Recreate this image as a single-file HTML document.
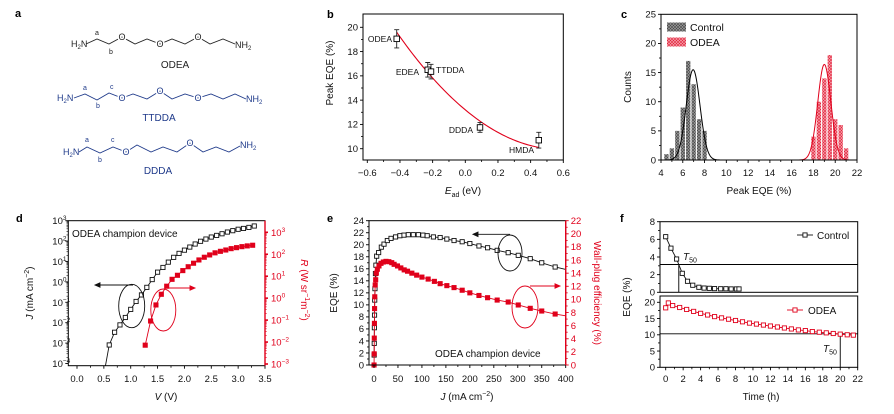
<!DOCTYPE html>
<html><head><meta charset="utf-8">
<style>
html,body{margin:0;padding:0;background:#fff;}
svg{display:block;font-family:"Liberation Sans",Arial,sans-serif;}
.t{font-size:9.5px;fill:#111;}
.ti{font-size:10px;fill:#111;}
.r{fill:#e0001b;}
</style></head>
<body>
<svg id="fig" width="894" height="414" viewBox="0 0 894 414" xmlns="http://www.w3.org/2000/svg">
<defs>
 <pattern id="hatchK" patternUnits="userSpaceOnUse" width="3" height="3"><rect width="3" height="3" fill="#9a9a9a"/><path d="M0,3L3,0M0,0L3,3" stroke="#444" stroke-width="0.6"/></pattern>
 <pattern id="hatchR" patternUnits="userSpaceOnUse" width="3" height="3"><rect width="3" height="3" fill="#f7a0aa"/><path d="M0,3L3,0M0,0L3,3" stroke="#e0203a" stroke-width="0.6"/></pattern>
</defs>
<g font-weight="bold" font-size="11" fill="#000">
<text x="15" y="17">a</text>
<text x="327" y="18">b</text>
<text x="621" y="18">c</text>
<text x="16" y="222">d</text>
<text x="327" y="222">e</text>
<text x="620" y="222">f</text>
</g>
<g font-size="9" fill="#1f3a8a">
 <g>
  <polyline fill="none" stroke="#222" stroke-width="0.9" points="86,44 97,39 109,44 122,37 135,44 147,39 160,44 172,39 185,44 198,37 210,44 223,39 235,44"/>
  <text x="71" y="47" fill="#222">H<tspan font-size="6" dy="2">2</tspan><tspan dy="-2">N</tspan></text>
  <text x="235" y="48" fill="#222">NH<tspan font-size="6" dy="2">2</tspan></text>
  <g fill="#222" stroke="#fff" stroke-width="3" paint-order="stroke" text-anchor="middle"><text x="122" y="40">O</text><text x="160" y="47">O</text><text x="198" y="40">O</text></g>
  <text x="95" y="35" font-size="7" fill="#222">a</text><text x="109" y="54" font-size="7" fill="#222">b</text>
  <text x="175" y="68" font-size="10" text-anchor="middle" fill="#222">ODEA</text>
 </g>
 <g>
  <polyline fill="none" stroke="#1f3a8a" stroke-width="0.9" points="74,98 85,94 97,100 109,93 122,98 133,94 147,99 160,91 172,99 185,94 198,98 211,94 223,99 235,94 246,99"/>
  <text x="57" y="101">H<tspan font-size="6" dy="2">2</tspan><tspan dy="-2">N</tspan></text>
  <text x="246" y="102">NH<tspan font-size="6" dy="2">2</tspan></text>
  <g stroke="#fff" stroke-width="3" paint-order="stroke" text-anchor="middle"><text x="122" y="101">O</text><text x="160" y="94">O</text><text x="198" y="101">O</text></g>
  <text x="83" y="90" font-size="7">a</text><text x="96" y="108" font-size="7">b</text><text x="110" y="89" font-size="7">c</text>
  <text x="159" y="121" font-size="10" text-anchor="middle">TTDDA</text>
 </g>
 <g>
  <polyline fill="none" stroke="#1f3a8a" stroke-width="0.9" points="79,152 87,147 100,153 113,147 126,152 137,145 151,152 163,147 177,152 190,143 203,152 216,147 229,152 240,146"/>
  <text x="63" y="155">H<tspan font-size="6" dy="2">2</tspan><tspan dy="-2">N</tspan></text>
  <text x="240" y="148">NH<tspan font-size="6" dy="2">2</tspan></text>
  <g stroke="#fff" stroke-width="3" paint-order="stroke" text-anchor="middle"><text x="126" y="155">O</text><text x="190" y="146">O</text></g>
  <text x="85" y="142" font-size="7">a</text><text x="98" y="162" font-size="7">b</text><text x="111" y="142" font-size="7">c</text>
  <text x="158" y="174" font-size="10" text-anchor="middle">DDDA</text>
 </g>
</g>
<text class="ti" transform="translate(333,73) rotate(-90)" text-anchor="middle">Peak EQE (%)</text>
<text class="ti" x="463" y="194" text-anchor="middle"><tspan font-style="italic">E</tspan><tspan font-size="7" dy="3">ad</tspan><tspan dy="-3"> (eV)</tspan></text>
<text class="ti" transform="translate(631,87) rotate(-90)" text-anchor="middle">Counts</text>
<text class="ti" x="759" y="194" text-anchor="middle">Peak EQE (%)</text>
<text class="ti" transform="translate(33,293) rotate(-90)" text-anchor="middle"><tspan font-style="italic">J</tspan> (mA cm<tspan font-size="7" dy="-4">−2</tspan><tspan dy="4">)</tspan></text>
<text class="ti r" transform="translate(301,290) rotate(90)" text-anchor="middle"><tspan font-style="italic">R</tspan> (W sr<tspan font-size="7" dy="-4">−1</tspan><tspan dy="4">m</tspan><tspan font-size="7" dy="-4">−2</tspan><tspan dy="4">)</tspan></text>
<text class="ti" x="166" y="400" text-anchor="middle"><tspan font-style="italic">V</tspan> (V)</text>
<text class="ti" transform="translate(337,293) rotate(-90)" text-anchor="middle">EQE (%)</text>
<text class="ti r" transform="translate(594,293) rotate(90)" text-anchor="middle">Wall-plug efficiency (%)</text>
<text class="ti" x="467" y="400" text-anchor="middle"><tspan font-style="italic">J</tspan> (mA cm<tspan font-size="7" dy="-4">−2</tspan><tspan dy="4">)</tspan></text>
<text class="ti" transform="translate(630,297) rotate(-90)" text-anchor="middle">EQE (%)</text>
<text class="ti" x="761" y="400" text-anchor="middle">Time (h)</text>
<g id="plots"></g>
</svg>
<script>
const bNames=['ODEA','EDEA','TTDDA','DDDA','HMDA'];
const bEad=[-0.42,-0.23,-0.21,0.09,0.45];
const bEqe=[19.05,16.5,16.35,11.75,10.7];
const bErr=[0.75,0.6,0.6,0.4,0.65];
const bFit=[13.2,-11.2,9.6];
const bXTicks=[-0.6,-0.4,-0.2,0.0,0.2,0.4,0.6];
const bYTicks=[10,12,14,16,18,20];
const cCtrlBins=[4.5,5,5.5,6,6.5,7,7.5,8];
const cCtrlCounts=[1,2,5,9,17,13,7,5];
const cOdeaBins=[18,18.5,19,19.5,20,20.5,21];
const cOdeaCounts=[4,10,14,18,7,6,2];
const cCtrlGauss=[6.95,15.5,0.63];
const cOdeaGauss=[19.0,16.4,0.6];
const cXTicks=[4,6,8,10,12,14,16,18,20,22];
const cYTicks=[0,5,10,15,20,25];
const dV=[0.6,0.7,0.8,0.9,1.0,1.1,1.2,1.3,1.4,1.5,1.6,1.7,1.8,1.9,2.0,2.1,2.2,2.3,2.4,2.5,2.6,2.7,2.8,2.9,3.0,3.1,3.2,3.3];
const dJ=[8.1e-4,3.4e-3,7.8e-3,0.018,0.045,0.11,0.23,0.54,1.3,3.0,5.1,9.3,16,25,36,51,72,98,126,158,190,229,278,324,380,417,468,550];
const dVR=[1.27,1.37,1.47,1.57,1.67,1.77,1.87,1.97,2.07,2.17,2.27,2.37,2.47,2.57,2.67,2.77,2.87,2.97,3.07,3.17,3.27];
const dR=[7.2e-3,0.091,0.49,1.5,3.5,7.2,11,18,27,39,55,73,93,116,136,156,180,200,222,240,257];
const dXTicks=[0.0,0.5,1.0,1.5,2.0,2.5,3.0,3.5];
const dYExp=[-4,-3,-2,-1,0,1,2,3];
const dRExp=[-3,-2,-1,0,1,2,3];
const eJ=[0.3,0.5,0.8,1.1,1.5,2,3,4,5.6,9.7,15.3,20.9,27.8,35.5,45,54,62.6,71.6,82,92.5,102,111,124,138,152,167,184,200,219,237,257,280,301,326,350,378];
const eEqe=[1.66,3.6,6.2,8.3,10.8,12.7,15.2,16.6,18.1,18.7,19.6,20.1,20.7,21.06,21.3,21.5,21.6,21.67,21.67,21.67,21.6,21.5,21.3,21.2,20.95,20.7,20.5,20.2,19.8,19.5,19.07,18.68,18.24,17.68,17.0,16.3];
const eJw=[0.1,0.4,0.6,0.9,1.2,1.6,2.5,3.5,4.9,7,10.4,14.6,19.5,25,31,37,42,49,56,63,70,79,89,100,113,126,138,152,167,184,200,219,237,257,280,301,326,350,378];
const eWpe=[0,1.7,4.1,6.35,8.6,10.4,12.2,13.0,14.0,14.6,15.1,15.5,15.7,15.8,15.75,15.6,15.35,15.1,14.8,14.5,14.3,14.0,13.7,13.4,13.1,12.75,12.4,12.1,11.8,11.4,11.0,10.6,10.26,9.9,9.6,9.15,8.64,8.23,7.77];
const eXTicks=[0,50,100,150,200,250,300,350,400];
const eYTicks=[0,2,4,6,8,10,12,14,16,18,20,22,24];
const eRTicks=[0,2,4,6,8,10,12,14,16,18,20,22];
const fTc=[0,0.6,1.25,1.9,2.5,3.1,3.8,4.4,5.0,5.6,6.3,6.9,7.5,8.1,8.4];
const fCtrl=[6.3,5.0,3.77,2.15,1.25,0.8,0.57,0.48,0.45,0.42,0.4,0.4,0.38,0.38,0.38];
const fTo=[0,0.3,0.8,1.6,2.4,3.2,4.0,4.8,5.6,6.4,7.2,8.0,8.8,9.6,10.4,11.2,12.0,12.8,13.6,14.4,15.2,16.0,16.8,17.6,18.4,19.2,20.0,20.8,21.5];
const fOdea=[18.3,19.8,19.0,18.4,17.8,17.2,16.6,16.1,15.6,15.2,14.8,14.4,14.0,13.6,13.3,13.0,12.7,12.4,12.1,11.8,11.5,11.3,11.0,10.8,10.6,10.4,10.2,10.0,9.9];
const fCtrlT50=[1.5,3.15];
const fOdeaT50=[20.0,10.3];
const fXTicks=[0,2,4,6,8,10,12,14,16,18,20,22];
const fTopTicks=[0,2,4,6,8];
const fBotTicks=[0,5,10,15,20];

const NS='http://www.w3.org/2000/svg';
const root=document.getElementById('plots');
function mk(tag,attrs,parent){const e=document.createElementNS(NS,tag);for(const k in attrs)e.setAttribute(k,attrs[k]);(parent||root).appendChild(e);return e;}
function lin(d0,d1,r0,r1){return v=>r0+(v-d0)*(r1-r0)/(d1-d0);}
function logs(e0,p0,pxPerDec){return v=>p0-(Math.log10(v)-e0)*pxPerDec;}
function box(x0,y0,x1,y1,nm){const r=mk('rect',{x:x0,y:y0,width:x1-x0,height:y1-y0,fill:'none',stroke:'#000','stroke-width':1});


return r;}
function xTicks(vals,sx,y,labelY,nm,fmt){const g=mk('g',{});


vals.forEach(v=>{const x=sx(v);mk('line',{x1:x,x2:x,y1:y,y2:y+3,stroke:'#000','stroke-width':0.9},g);
const t=mk('text',{x:x,y:labelY,'text-anchor':'middle',class:'t'},g);t.textContent=fmt?fmt(v):String(v);

});
for(let i=0;i<vals.length-1;i++){const x=sx((vals[i]+vals[i+1])/2);mk('line',{x1:x,x2:x,y1:y,y2:y+2,stroke:'#000','stroke-width':0.8},g);}return g;}
function yTicks(vals,sy,x,dir,nm,fmt,cls){const g=mk('g',{});


const col=cls?'#e0001b':'#000';
vals.forEach(v=>{const y=sy(v);mk('line',{x1:x,x2:x+3*dir,y1:y,y2:y,stroke:col,'stroke-width':0.9},g);
const t=mk('text',{x:x+5*dir,y:y+3.3,'text-anchor':dir<0?'end':'start',class:'t'+(cls?' r':'')},g);t.textContent=fmt?fmt(v):String(v);

});
for(let i=0;i<vals.length-1;i++){const y=sy((vals[i]+vals[i+1])/2);mk('line',{x1:x,x2:x+2*dir,y1:y,y2:y,stroke:col,'stroke-width':0.8},g);}return g;}
function logYTicks(exps,sy,x,dir,nm,red){const g=mk('g',{});


const col=red?'#e0001b':'#000';
exps.forEach(e=>{const y=sy(Math.pow(10,e));mk('line',{x1:x,x2:x+3*dir,y1:y,y2:y,stroke:col,'stroke-width':red?1.6:0.9},g);
for(let m=2;m<10;m++){const ym=sy(m*Math.pow(10,e));if(e<exps[exps.length-1])mk('line',{x1:x,x2:x+1.8*dir,y1:ym,y2:ym,stroke:col,'stroke-width':0.6},g);}
const t=mk('text',{x:x+(dir<0?-16:6),y:y+3.5,'text-anchor':'start',class:'t'+(red?' r':'')},g);


t.innerHTML='10<tspan font-size="6.5" dy="-4">'+(e<0?'−'+(-e):e)+'</tspan>';});return g;}
function fmt1(v){return v.toFixed(1).replace('-','−');}
function sq(x,y,s,fill,stroke,parent,nm){const r=mk('rect',{x:x-s/2,y:y-s/2,width:s,height:s,fill:fill,stroke:stroke,'stroke-width':0.9},parent);

return r;}
function pl(pts,col,w,parent,nm){const p=mk('polyline',{points:pts.map(p=>p.join(',')).join(' '),fill:'none',stroke:col,'stroke-width':w||1},parent);

return p;}
function txt(x,y,s,attrs,nm){const t=mk('text',Object.assign({x:x,y:y},attrs||{}));t.textContent=s;

return t;}

(function(){const sx=lin(-0.6,0.6,367.3,563.3),sy=lin(10,20,148.7,27.3);
const g=mk('g',{});


box(363,14,563.3,160,'b-plot-frame');
xTicks(bXTicks,sx,160,176,'b-x-axis',fmt1);
yTicks(bYTicks,sy,363,-1,'b-y-axis');
const pts=[];for(let x=-0.42;x<=0.4501;x+=0.01){pts.push([sx(x),sy(bFit[0]+bFit[1]*x+bFit[2]*x*x)]);}
pl(pts,'#e0001b',1.1,g,'fit-curve');
bEad.forEach((x,i)=>{const X=sx(x),Y=sy(bEqe[i]),y1=sy(bEqe[i]+bErr[i]),y2=sy(bEqe[i]-bErr[i]);
const eb=mk('path',{d:`M${X},${y1}V${y2}M${X-2.5},${y1}H${X+2.5}M${X-2.5},${y2}H${X+2.5}`,stroke:'#222','stroke-width':0.9,fill:'none'},g);


sq(X,Y,5.5,'#fff','#000',g,'data-point-'+bNames[i].toLowerCase());});
const lab=[[392,'end',42],[419,'end',75],[436,'start',73],[473,'end',133],[534,'end',153]];
bNames.forEach((n,i)=>{txt(lab[i][0],lab[i][2],n,{'font-size':'8.5',fill:'#111','text-anchor':lab[i][1]},'label-'+n.toLowerCase());});
})();

(function(){const sx=lin(4,22,661,857),sy=lin(0,25,160,14.3);
const g=mk('g',{});


const bw=0.4;
cCtrlBins.forEach((b,i)=>{const r=mk('rect',{x:sx(b-bw/2),y:sy(cCtrlCounts[i]),width:sx(b+bw/2)-sx(b-bw/2),height:sy(0)-sy(cCtrlCounts[i]),fill:'url(#hatchK)'},g);

});
cOdeaBins.forEach((b,i)=>{const r=mk('rect',{x:sx(b-bw/2),y:sy(cOdeaCounts[i]),width:sx(b+bw/2)-sx(b-bw/2),height:sy(0)-sy(cOdeaCounts[i]),fill:'url(#hatchR)'},g);

});
function gauss(p,a,b){const pts=[];for(let x=a;x<=b;x+=0.05)pts.push([sx(x),sy(p[1]*Math.exp(-Math.pow(x-p[0],2)/(2*p[2]*p[2])))]);return pts;}
pl(gauss(cCtrlGauss,4.2,10.5),'#000',1,g,'control-gaussian-fit');
pl(gauss(cOdeaGauss,15.5,22),'#e0001b',1,g,'odea-gaussian-fit');
box(661,14.3,857,160,'c-plot-frame');
xTicks(cXTicks,sx,160,176,'c-x-axis');
yTicks(cYTicks,sy,661,-1,'c-y-axis');
const l1=mk('rect',{x:667,y:22.5,width:19,height:9,fill:'url(#hatchK)'});


txt(690,31,'Control',{'font-size':'10.5',fill:'#111'},'legend-label-control');
const l2=mk('rect',{x:667,y:37.5,width:19,height:9,fill:'url(#hatchR)'});


txt(690,46,'ODEA',{'font-size':'10.5',fill:'#111'},'legend-label-odea');
})();

(function(){const sx=lin(0,3.5,77,265),sy=logs(3,220.7,20.4),sr=logs(3,232.3,21.95);
const g=mk('g',{});


box(68.3,220.7,265,365.7,'d-plot-frame');
xTicks(dXTicks,sx,365.7,382,'d-x-axis',v=>v.toFixed(1));
logYTicks(dYExp,sy,68.3,-1,'d-left-y-axis',false);
const rl=mk('line',{x1:265,x2:265,y1:220.7,y2:365.7,stroke:'#e0001b','stroke-width':1.4});


logYTicks(dRExp,sr,265,1,'d-right-y-axis',true);
const jl=[[sx(0.53),365.7]].concat(dV.map((v,i)=>[sx(v),sy(dJ[i])]));
pl(jl,'#111',0.9,g,'current-density-line');
dV.forEach((v,i)=>sq(sx(v),sy(dJ[i]),4.2,'#fff','#111',g,'current-density-point'));
pl(dVR.map((v,i)=>[sx(v),sr(dR[i])]),'#e0001b',0.9,g,'radiance-line');
dVR.forEach((v,i)=>sq(sx(v),sr(dR[i]),4.2,'#e0001b','#e0001b',g,'radiance-point'));
txt(72,237,'ODEA champion device',{'font-size':'10',fill:'#111'},'d-annotation');
const e1=mk('ellipse',{cx:131.7,cy:306,rx:13,ry:21.7,fill:'none',stroke:'#111','stroke-width':0.9},g);


const a1=mk('path',{d:'M133,285H95M95,285l5,-2.2v4.4z',stroke:'#111','stroke-width':0.9,fill:'#111'},g);


const e2=mk('ellipse',{cx:163.3,cy:310,rx:12.5,ry:21,fill:'none',stroke:'#e0001b','stroke-width':0.9},g);


const a2=mk('path',{d:'M166,288H192M195,288l-5,-2.2v4.4z',stroke:'#e0001b','stroke-width':0.9,fill:'#e0001b'},g);


})();

(function(){const sx=lin(0,400,374,565.7),sy=lin(0,24,365,220.7),sr=lin(0,22,365,220.7);
const g=mk('g',{});


box(369,220.7,565.7,365,'e-plot-frame');
xTicks(eXTicks,sx,365,382,'e-x-axis');
yTicks(eYTicks,sy,369,-1,'e-left-y-axis');
const rl=mk('line',{x1:565.7,x2:565.7,y1:220.7,y2:365,stroke:'#e0001b','stroke-width':1.4});


yTicks(eRTicks,sr,565.7,1,'e-right-y-axis',null,true);
const kp=eJ.map((j,i)=>[sx(j),sy(eEqe[i])]);kp.push([sx(400),sy(15.9)]);
pl(kp,'#111',0.9,g,'eqe-line');
eJ.forEach((j,i)=>sq(sx(j),sy(eEqe[i]),4.2,'#fff','#111',g,'eqe-point'));
const rp=eJw.map((j,i)=>[sx(j),sr(eWpe[i])]);rp.push([sx(400),sr(7.5)]);
pl(rp,'#e0001b',0.9,g,'wall-plug-line');
eJw.forEach((j,i)=>sq(sx(j),sr(eWpe[i]),4.2,'#e0001b','#e0001b',g,'wall-plug-point'));
txt(435,357,'ODEA champion device',{'font-size':'10',fill:'#111'},'e-annotation');
const e1=mk('ellipse',{cx:510,cy:253,rx:12,ry:18,fill:'none',stroke:'#111','stroke-width':0.9},g);


const a1=mk('path',{d:'M510,234.3H476M473,234.3l5,-2.2v4.4z',stroke:'#111','stroke-width':0.9,fill:'#111'},g);


const e2=mk('ellipse',{cx:525,cy:307,rx:13,ry:21,fill:'none',stroke:'#e0001b','stroke-width':0.9},g);


const a2=mk('path',{d:'M530,286H557M560,286l-5,-2.2v4.4z',stroke:'#e0001b','stroke-width':0.9,fill:'#e0001b'},g);


})();

(function(){const sx=lin(0,22,665.7,857.7),st=lin(0,8,292.3,221.7),sb=lin(0,20,367.3,302.3);
const g=mk('g',{});


box(660,221.7,857.7,292.3,'f-top-frame');
box(660,296,857.7,367.3,'f-bottom-frame');
xTicks(fXTicks,sx,367.3,382,'f-x-axis');
yTicks(fTopTicks,st,660,-1,'f-top-y-axis');
yTicks(fBotTicks,sb,660,-1,'f-bottom-y-axis');
const h1=mk('path',{d:`M660,${st(fCtrlT50[1])}H857.7M${sx(fCtrlT50[0])},${st(fCtrlT50[1])}V292.3`,stroke:'#000','stroke-width':0.9,fill:'none'},g);


const h2=mk('path',{d:`M660,${sb(fOdeaT50[1])}H857.7M${sx(fOdeaT50[0])},${sb(fOdeaT50[1])}V367.3`,stroke:'#000','stroke-width':0.9,fill:'none'},g);


pl(fTc.map((t,i)=>[sx(t),st(fCtrl[i])]),'#111',0.9,g,'control-line');
fTc.forEach((t,i)=>sq(sx(t),st(fCtrl[i]),4.2,'#fff','#111',g,'control-point'));
pl(fTo.map((t,i)=>[sx(t),sb(fOdea[i])]),'#e0001b',0.9,g,'odea-line');
fTo.forEach((t,i)=>sq(sx(t),sb(fOdea[i]),4.2,'#fff','#e0001b',g,'odea-point'));
const t1=txt(683,260,'',{'font-size':'10',fill:'#111'},'control-t50-label');t1.innerHTML='<tspan font-style="italic">T</tspan><tspan font-size="7" dy="2.5">50</tspan>';
const t2=txt(823,352,'',{'font-size':'10',fill:'#111'},'odea-t50-label');t2.innerHTML='<tspan font-style="italic">T</tspan><tspan font-size="7" dy="2.5">50</tspan>';
pl([[797,235],[813,235]],'#111',0.9,g,'legend-line-control');sq(805,235,4.2,'#fff','#111',g,'legend-marker-control');
txt(817,239,'Control',{'font-size':'10',fill:'#111'},'legend-label-control');
pl([[787,310],[803,310]],'#e0001b',0.9,g,'legend-line-odea');sq(795,310,4.2,'#fff','#e0001b',g,'legend-marker-odea');
txt(808,314,'ODEA',{'font-size':'10',fill:'#111'},'legend-label-odea');
})();
</script>
</body></html>
